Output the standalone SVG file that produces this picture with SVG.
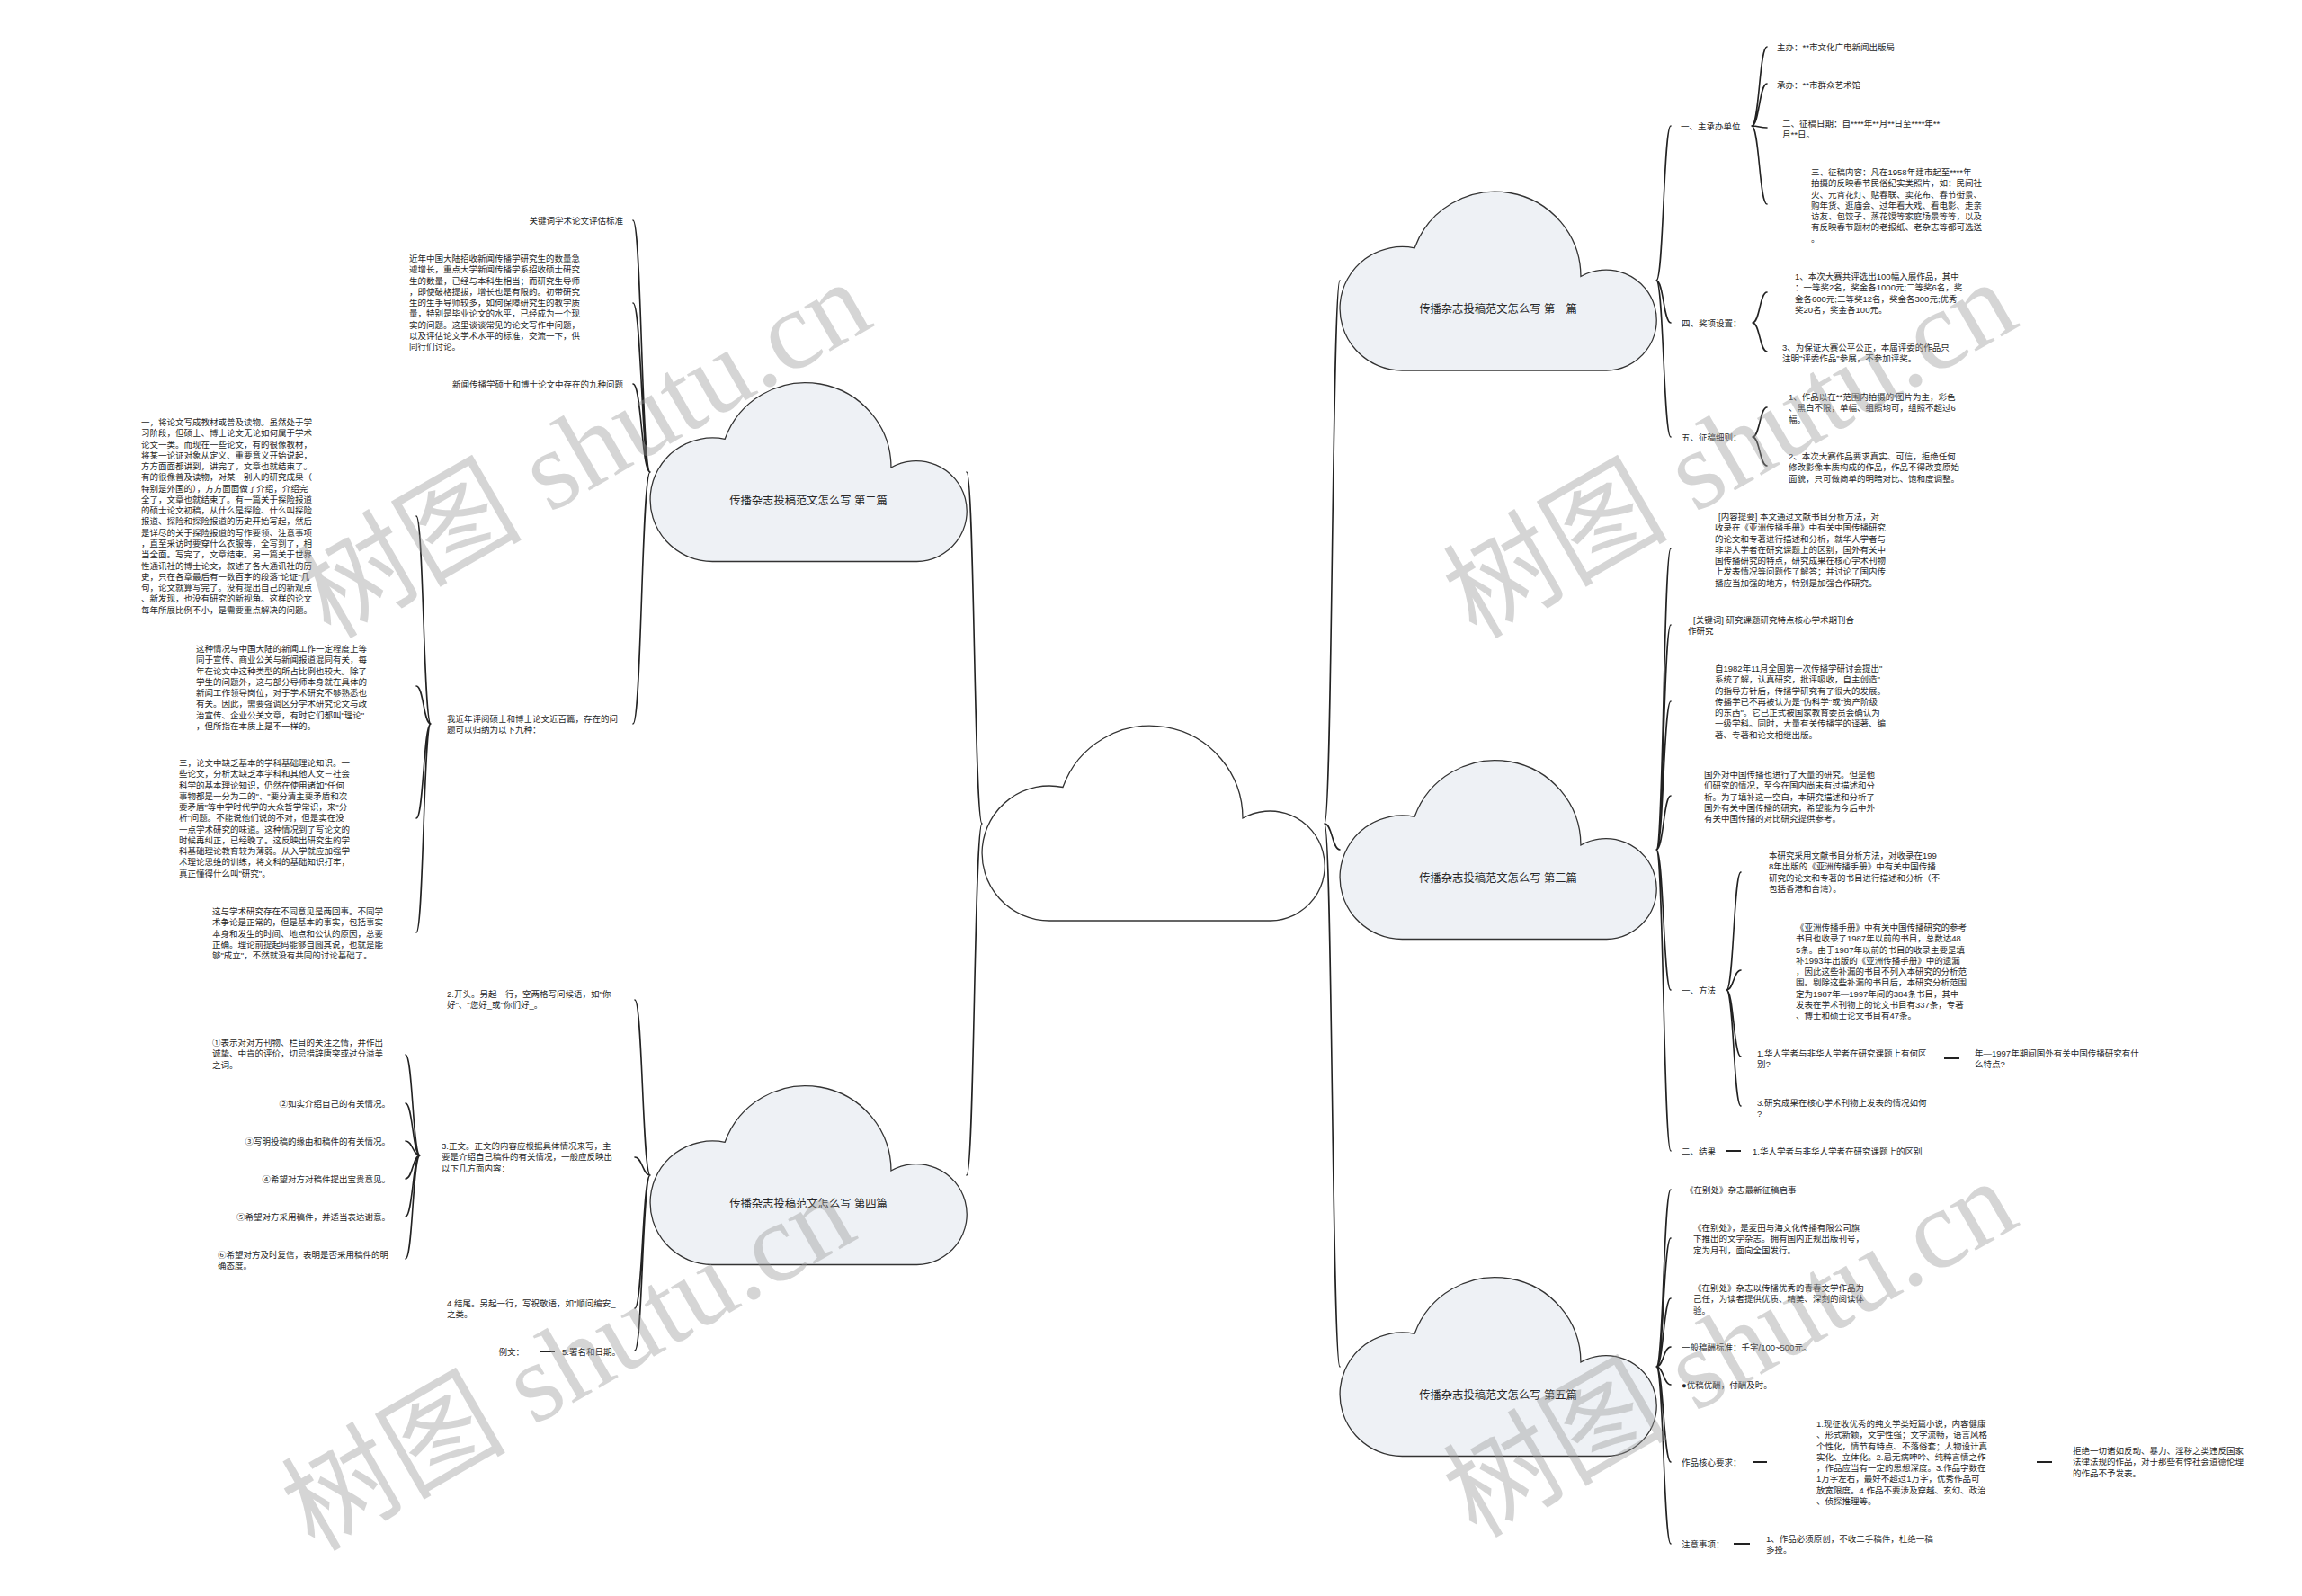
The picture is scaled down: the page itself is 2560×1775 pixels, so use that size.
<svg xmlns="http://www.w3.org/2000/svg" xmlns:xlink="http://www.w3.org/1999/xlink" width="2560" height="1775" viewBox="0 0 2560 1775">
<style>
.t{font-family:"Liberation Sans","Noto Sans CJK SC",sans-serif;font-size:9.5px;fill:#262626;dominant-baseline:central}
.e{text-anchor:end}
.cl{font-family:"Liberation Sans","Noto Sans CJK SC",sans-serif;font-size:12.3px;fill:#262626;text-anchor:middle;dominant-baseline:central}
.lk{fill:none;stroke:#222;stroke-width:1.6;stroke-linecap:round}
.dl{fill:none;stroke:#222;stroke-width:2.2}
.cw{fill:#fff;stroke:#333;stroke-width:1.3}
.cb{fill:#eef1f5;stroke:#333;stroke-width:1.3}
.wm{font-family:"Liberation Serif","Noto Sans CJK SC",serif;font-size:125px;fill:#999;opacity:0.4;text-anchor:middle;dominant-baseline:central}
</style>
<defs>
<path id="cloud" d="M75 217A75 75 0 1 1 90 68.5A103 103 0 0 1 290 103A61 61 0 1 1 321 217Z" vector-effect="non-scaling-stroke"/>
</defs>
<rect width="2560" height="1775" fill="#fff"/>

<g id="connectors">
<path class="lk" d="M1092 916C1083.5 916 1083.5 525 1075 525M1092 916C1083.5 916 1083.5 1307 1075 1307M1473 916C1481.5 916 1481.5 312 1490 312M1473 916C1481.5 916 1481.5 945 1490 945M1473 916C1481.5 916 1481.5 1520 1490 1520"/>
<path class="lk" d="M1842 312C1850 312 1850 140 1858 140M1842 312C1850 312 1850 359 1858 359M1842 312C1850 312 1850 486 1858 486"/>
<path class="lk" d="M1948 140C1956.5 140 1956.5 52 1965 52M1948 140C1956.5 140 1956.5 93 1965 93M1948 140C1956.5 140 1956.5 142 1965 142M1948 140C1956.5 140 1956.5 227 1965 227"/>
<path class="lk" d="M1949 359C1957 359 1957 325 1965 325M1949 359C1957 359 1957 391 1965 391M1949 486C1957 486 1957 453 1965 453M1949 486C1957 486 1957 518 1965 518"/>
<path class="lk" d="M1842 945C1850 945 1850 610 1858 610M1842 945C1850 945 1850 695 1858 695M1842 945C1850 945 1850 780 1858 780M1842 945C1850 945 1850 885 1858 885M1842 945C1850 945 1850 1101 1858 1101M1842 945C1850 945 1850 1280 1858 1280"/>
<path class="lk" d="M1920 1101C1928 1101 1928 970 1936 970M1920 1101C1928 1101 1928 1079 1936 1079M1920 1101C1928 1101 1928 1175 1936 1175M1920 1101C1928 1101 1928 1230 1936 1230"/>
<path class="lk" d="M1842 1520C1850 1520 1850 1323 1858 1323M1842 1520C1850 1520 1850 1377 1858 1377M1842 1520C1850 1520 1850 1444 1858 1444M1842 1520C1850 1520 1850 1498 1858 1498M1842 1520C1850 1520 1850 1540 1858 1540M1842 1520C1850 1520 1850 1626 1858 1626M1842 1520C1850 1520 1850 1717 1858 1717"/>
<path class="lk" d="M723 525C713.5 525 713.5 245 704 245M723 525C713.5 525 713.5 337 704 337M723 525C713.5 525 713.5 427 704 427M723 525C713.5 525 713.5 805 704 805"/>
<path class="lk" d="M479 805C471 805 471 574 463 574M479 805C471 805 471 763 463 763M479 805C471 805 471 910 463 910M479 805C471 805 471 1037 463 1037"/>
<path class="lk" d="M723 1307C714.5 1307 714.5 1112 706 1112M723 1307C714.5 1307 714.5 1287 706 1287M723 1307C714.5 1307 714.5 1455 706 1455M723 1307C714.5 1307 714.5 1502 706 1502"/>
<path class="lk" d="M467 1285C459 1285 459 1173 451 1173M467 1285C459 1285 459 1227 451 1227M467 1285C459 1285 459 1269 451 1269M467 1285C459 1285 459 1311 451 1311M467 1285C459 1285 459 1353 451 1353M467 1285C459 1285 459 1400 451 1400"/>
<path class="dl" d="M1920 1280H1936M2162 1177H2179M1949 1626H1965M2265 1626H2282M1928 1717H1946M617 1503H600"/>
</g>

<g id="root"><use xlink:href="#cloud" class="cw" transform="translate(1092 807)"/></g>
<g id="topic1"><use xlink:href="#cloud" class="cb" transform="translate(1490 213) scale(0.924 0.917)"/><text class="cl" x="1666" y="344">传播杂志投稿范文怎么写 第一篇</text></g>
<g id="topic2"><use xlink:href="#cloud" class="cb" transform="translate(723 425.5) scale(0.924 0.917)"/><text class="cl" x="899" y="556.5">传播杂志投稿范文怎么写 第二篇</text></g>
<g id="topic3"><use xlink:href="#cloud" class="cb" transform="translate(1490 845.5) scale(0.924 0.917)"/><text class="cl" x="1666" y="976.5">传播杂志投稿范文怎么写 第三篇</text></g>
<g id="topic4"><use xlink:href="#cloud" class="cb" transform="translate(723 1207.5) scale(0.924 0.917)"/><text class="cl" x="899" y="1338.5">传播杂志投稿范文怎么写 第四篇</text></g>
<g id="topic5"><use xlink:href="#cloud" class="cb" transform="translate(1490 1420.5) scale(0.924 0.917)"/><text class="cl" x="1666" y="1551.5">传播杂志投稿范文怎么写 第五篇</text></g>

<g id="n1"><text class="t" x="1869" y="140">一、主承办单位</text></g>
<g id="n1a"><text class="t" x="1976" y="52">主办：**市文化广电新闻出版局</text></g>
<g id="n1b"><text class="t" x="1976" y="94">承办：**市群众艺术馆</text></g>
<g id="n1c"><text class="t" x="1982" y="137"><tspan x="1982">二、征稿日期：自****年**月**日至****年**</tspan><tspan x="1982" dy="12.27">月**日。</tspan></text></g>
<g id="n1d"><text class="t" x="2014" y="191"><tspan x="2014">三、征稿内容：凡在1958年建市起至****年</tspan><tspan x="2014" dy="12.27">拍摄的反映春节民俗纪实类照片，如：民间社</tspan><tspan x="2014" dy="12.27">火、元宵花灯、贴春联、卖花布、春节街景、</tspan><tspan x="2014" dy="12.27">购年货、逛庙会、过年看大戏、看电影、走亲</tspan><tspan x="2014" dy="12.27">访友、包饺子、蒸花馍等家庭场景等等，以及</tspan><tspan x="2014" dy="12.27">有反映春节题材的老报纸、老杂志等都可选送</tspan><tspan x="2014" dy="12.27">。</tspan></text></g>
<g id="n2"><text class="t" x="1870" y="359">四、奖项设置：</text></g>
<g id="n2a"><text class="t" x="1996" y="307"><tspan x="1996">1、本次大赛共评选出100幅入展作品，其中</tspan><tspan x="1996" dy="12.27">：一等奖2名，奖金各1000元;二等奖6名，奖</tspan><tspan x="1996" dy="12.27">金各600元;三等奖12名，奖金各300元;优秀</tspan><tspan x="1996" dy="12.27">奖20名，奖金各100元。</tspan></text></g>
<g id="n2b"><text class="t" x="1982" y="386"><tspan x="1982">3、为保证大赛公平公正，本届评委的作品只</tspan><tspan x="1982" dy="12.27">注明"评委作品"参展，不参加评奖。</tspan></text></g>
<g id="n3"><text class="t" x="1870" y="486">五、征稿细则：</text></g>
<g id="n3a"><text class="t" x="1989" y="441"><tspan x="1989">1、作品以在**范围内拍摄的'图片为主，彩色</tspan><tspan x="1989" dy="12.27">、黑白不限，单幅、组照均可，组照不超过6</tspan><tspan x="1989" dy="12.27">幅。</tspan></text></g>
<g id="n3b"><text class="t" x="1989" y="507"><tspan x="1989">2、本次大赛作品要求真实、可信，拒绝任何</tspan><tspan x="1989" dy="12.27">修改影像本质构成的作品，作品不得改变原始</tspan><tspan x="1989" dy="12.27">面貌，只可做简单的明暗对比、饱和度调整。</tspan></text></g>

<g id="m1"><text class="t" x="1907" y="574"><tspan x="1911">[内容提要] 本文通过文献书目分析方法，对</tspan><tspan x="1907" dy="12.27">收录在《亚洲传播手册》中有关中国传播研究</tspan><tspan x="1907" dy="12.27">的论文和专著进行描述和分析，就华人学者与</tspan><tspan x="1907" dy="12.27">非华人学者在研究课题上的区别，国外有关中</tspan><tspan x="1907" dy="12.27">国传播研究的特点，研究成果在核心学术刊物</tspan><tspan x="1907" dy="12.27">上发表情况等问题作了解答；并讨论了国内传</tspan><tspan x="1907" dy="12.27">播应当加强的地方，特别是加强合作研究。</tspan></text></g>
<g id="m2"><text class="t" x="1877" y="689"><tspan x="1883">[关键词] 研究课题研究特点核心学术期刊合</tspan><tspan x="1877" dy="12.27">作研究</tspan></text></g>
<g id="m3"><text class="t" x="1907" y="743"><tspan x="1907">自1982年11月全国第一次传播学研讨会提出"</tspan><tspan x="1907" dy="12.27">系统了解，认真研究，批评吸收，自主创造"</tspan><tspan x="1907" dy="12.27">的指导方针后，传播学研究有了很大的发展。</tspan><tspan x="1907" dy="12.27">传播学已不再被认为是"伪科学"或"资产阶级</tspan><tspan x="1907" dy="12.27">的东西"。它已正式被国家教育委员会确认为</tspan><tspan x="1907" dy="12.27">一级学科。同时，大量有关传播学的译著、编</tspan><tspan x="1907" dy="12.27">著、专著和论文相继出版。</tspan></text></g>
<g id="m4"><text class="t" x="1895" y="861"><tspan x="1895">国外对中国传播也进行了大量的研究。但是他</tspan><tspan x="1895" dy="12.27">们研究的情况，至今在国内尚未有过描述和分</tspan><tspan x="1895" dy="12.27">析。为了填补这一空白，本研究描述和分析了</tspan><tspan x="1895" dy="12.27">国外有关中国传播的研究，希望能为今后中外</tspan><tspan x="1895" dy="12.27">有关中国传播的对比研究提供参考。</tspan></text></g>
<g id="m5"><text class="t" x="1870" y="1101">一、方法</text></g>
<g id="m5a"><text class="t" x="1967" y="951"><tspan x="1967">本研究采用文献书目分析方法，对收录在199</tspan><tspan x="1967" dy="12.27">8年出版的《亚洲传播手册》中有关中国传播</tspan><tspan x="1967" dy="12.27">研究的论文和专著的书目进行描述和分析（不</tspan><tspan x="1967" dy="12.27">包括香港和台湾）。</tspan></text></g>
<g id="m5b"><text class="t" x="1997" y="1031"><tspan x="1997">《亚洲传播手册》中有关中国传播研究的参考</tspan><tspan x="1997" dy="12.27">书目也收录了1987年以前的书目，总数达48</tspan><tspan x="1997" dy="12.27">5条。由于1987年以前的书目的收录主要是填</tspan><tspan x="1997" dy="12.27">补1993年出版的《亚洲传播手册》中的遗漏</tspan><tspan x="1997" dy="12.27">，因此这些补漏的书目不列入本研究的分析范</tspan><tspan x="1997" dy="12.27">围。剔除这些补漏的书目后，本研究分析范围</tspan><tspan x="1997" dy="12.27">定为1987年—1997年间的384条书目，其中</tspan><tspan x="1997" dy="12.27">发表在学术刊物上的论文书目有337条，专著</tspan><tspan x="1997" dy="12.27">、博士和硕士论文书目有47条。</tspan></text></g>
<g id="m5c"><text class="t" x="1954" y="1171"><tspan x="1954">1.华人学者与非华人学者在研究课题上有何区</tspan><tspan x="1954" dy="12.27">别?</tspan></text></g>
<g id="m5c1"><text class="t" x="2196" y="1171"><tspan x="2196">年—1997年期间国外有关中国传播研究有什</tspan><tspan x="2196" dy="12.27">么特点?</tspan></text></g>
<g id="m5d"><text class="t" x="1954" y="1226"><tspan x="1954">3.研究成果在核心学术刊物上发表的情况如何</tspan><tspan x="1954" dy="12.27">?</tspan></text></g>
<g id="m6"><text class="t" x="1870" y="1280">二、结果</text></g>
<g id="m6a"><text class="t" x="1949" y="1280">1.华人学者与非华人学者在研究课题上的区别</text></g>

<g id="p1"><text class="t" x="1874" y="1323">《在别处》杂志最新征稿启事</text></g>
<g id="p2"><text class="t" x="1883" y="1365"><tspan x="1883">《在别处》，是麦田与海文化传播有限公司旗</tspan><tspan x="1883" dy="12.27">下推出的文学杂志。拥有国内正规出版刊号，</tspan><tspan x="1883" dy="12.27">定为月刊，面向全国发行。</tspan></text></g>
<g id="p3"><text class="t" x="1883" y="1432"><tspan x="1883">《在别处》杂志以传播优秀的青春文学作品为</tspan><tspan x="1883" dy="12.27">己任，为读者提供优质、精美、深刻的阅读体</tspan><tspan x="1883" dy="12.27">验。</tspan></text></g>
<g id="p4"><text class="t" x="1870" y="1498">一般稿酬标准：千字/100~500元。</text></g>
<g id="p5"><text class="t" x="1870" y="1540">●优稿优酬，付酬及时。</text></g>
<g id="p6"><text class="t" x="1870" y="1626">作品核心要求：</text></g>
<g id="p6a"><text class="t" x="2020" y="1583"><tspan x="2020">1.现征收优秀的纯文学类短篇小说，内容健康</tspan><tspan x="2020" dy="12.27">、形式新颖，文学性强；文字流畅，语言风格</tspan><tspan x="2020" dy="12.27">个性化，情节有特点、不落俗套；人物设计真</tspan><tspan x="2020" dy="12.27">实化、立体化。2.忌无病呻吟、纯粹言情之作</tspan><tspan x="2020" dy="12.27">，作品应当有一定的思想深度。3.作品字数在</tspan><tspan x="2020" dy="12.27">1万字左右，最好不超过1万字，优秀作品可</tspan><tspan x="2020" dy="12.27">放宽限度。4.作品不要涉及穿越、玄幻、政治</tspan><tspan x="2020" dy="12.27">、侦探推理等。</tspan></text></g>
<g id="p6b"><text class="t" x="2305" y="1613"><tspan x="2305">拒绝一切诸如反动、暴力、淫秽之类违反国家</tspan><tspan x="2305" dy="12.27">法律法规的作品，对于那些有悖社会道德伦理</tspan><tspan x="2305" dy="12.27">的作品不予发表。</tspan></text></g>
<g id="p7"><text class="t" x="1870" y="1717">注意事项：</text></g>
<g id="p7a"><text class="t" x="1964" y="1711"><tspan x="1964">1、作品必须原创，不收二手稿件，杜绝一稿</tspan><tspan x="1964" dy="12.27">多投。</tspan></text></g>

<g id="q1"><text class="t e" x="693" y="245">关键词学术论文评估标准</text></g>
<g id="q2"><text class="t" x="455" y="287"><tspan x="455">近年中国大陆招收新闻传播学研究生的数量急</tspan><tspan x="455" dy="12.27">遽增长，重点大学新闻传播学系招收硕士研究</tspan><tspan x="455" dy="12.27">生的数量，已经与本科生相当；而研究生导师</tspan><tspan x="455" dy="12.27">，即使破格提拔，增长也是有限的。初带研究</tspan><tspan x="455" dy="12.27">生的生手导师较多，如何保障研究生的教学质</tspan><tspan x="455" dy="12.27">量，特别是毕业论文的水平，已经成为一个现</tspan><tspan x="455" dy="12.27">实的问题。这里谈谈常见的论文写作中问题，</tspan><tspan x="455" dy="12.27">以及评估论文学术水平的标准，交流一下，供</tspan><tspan x="455" dy="12.27">同行们讨论。</tspan></text></g>
<g id="q3"><text class="t e" x="693" y="427">新闻传播学硕士和博士论文中存在的九种问题</text></g>
<g id="q4"><text class="t" x="497" y="799"><tspan x="497">我近年评阅硕士和博士论文近百篇，存在的问</tspan><tspan x="497" dy="12.27">题可以归纳为以下九种：</tspan></text></g>
<g id="q4a"><text class="t" x="157" y="469"><tspan x="157">一，将论文写成教材或普及读物。虽然处于学</tspan><tspan x="157" dy="12.27">习阶段，但硕士、博士论文无论如何属于学术</tspan><tspan x="157" dy="12.27">论文一类。而现在一些论文，有的很像教材，</tspan><tspan x="157" dy="12.27">将某一论证对象从定义、重要意义开始说起，</tspan><tspan x="157" dy="12.27">方方面面都讲到，讲完了，文章也就结束了。</tspan><tspan x="157" dy="12.27">有的很像普及读物，对某一别人的研究成果（</tspan><tspan x="157" dy="12.27">特别是外国的），方方面面做了介绍，介绍完</tspan><tspan x="157" dy="12.27">全了，文章也就结束了。有一篇关于探险报道</tspan><tspan x="157" dy="12.27">的硕士论文初稿，从什么是探险、什么叫探险</tspan><tspan x="157" dy="12.27">报道、探险和探险报道的历史开始写起，然后</tspan><tspan x="157" dy="12.27">是详尽的关于探险报道的写作要领、注意事项</tspan><tspan x="157" dy="12.27">，直至采访时要穿什么衣服等，全写到了，相</tspan><tspan x="157" dy="12.27">当全面。写完了，文章结束。另一篇关于世界</tspan><tspan x="157" dy="12.27">性通讯社的博士论文，叙述了各大通讯社的历</tspan><tspan x="157" dy="12.27">史，只在各章最后有一数百字的段落"论证"几</tspan><tspan x="157" dy="12.27">句，论文就算写完了。没有提出自己的新观点</tspan><tspan x="157" dy="12.27">、新发现，也没有研究的新视角。这样的论文</tspan><tspan x="157" dy="12.27">每年所展比例不小，是需要重点解决的问题。</tspan></text></g>
<g id="q4b"><text class="t" x="218" y="721"><tspan x="218">这种情况与中国大陆的新闻工作一定程度上等</tspan><tspan x="218" dy="12.27">同于宣传、商业公关与新闻报道混同有关，每</tspan><tspan x="218" dy="12.27">年在论文中这种类型的所占比例也较大。除了</tspan><tspan x="218" dy="12.27">学生的问题外，这与部分导师本身就在具体的</tspan><tspan x="218" dy="12.27">新闻工作领导岗位，对于学术研究不够熟悉也</tspan><tspan x="218" dy="12.27">有关。因此，需要强调区分学术研究论文与政</tspan><tspan x="218" dy="12.27">治宣传、企业公关文章，有时它们都叫"理论"</tspan><tspan x="218" dy="12.27">，但所指在本质上是不一样的。</tspan></text></g>
<g id="q4c"><text class="t" x="199" y="848"><tspan x="199">三，论文中缺乏基本的学科基础理论知识。一</tspan><tspan x="199" dy="12.27">些论文，分析太缺乏本学科和其他人文－社会</tspan><tspan x="199" dy="12.27">科学的基本理论知识，仍然在使用诸如"任何</tspan><tspan x="199" dy="12.27">事物都是一分为二的"、"要分清主要矛盾和次</tspan><tspan x="199" dy="12.27">要矛盾"等中学时代学的大众哲学常识，来"分</tspan><tspan x="199" dy="12.27">析"问题。不能说他们说的不对，但是实在没</tspan><tspan x="199" dy="12.27">一点学术研究的味道。这种情况到了写论文的</tspan><tspan x="199" dy="12.27">时候再纠正，已经晚了。这反映出研究生的学</tspan><tspan x="199" dy="12.27">科基础理论教育较为薄弱。从入学就应加强学</tspan><tspan x="199" dy="12.27">术理论思维的训练，将文科的基础知识打牢，</tspan><tspan x="199" dy="12.27">真正懂得什么叫"研究"。</tspan></text></g>
<g id="q4d"><text class="t" x="236" y="1013"><tspan x="236">这与学术研究存在不同意见是两回事。不同学</tspan><tspan x="236" dy="12.27">术争论是正常的，但是基本的事实，包括事实</tspan><tspan x="236" dy="12.27">本身和发生的时间、地点和公认的原因，总要</tspan><tspan x="236" dy="12.27">正确。理论前提起码能够自圆其说，也就是能</tspan><tspan x="236" dy="12.27">够"成立"，不然就没有共同的讨论基础了。</tspan></text></g>

<g id="r1"><text class="t" x="497" y="1105"><tspan x="497">2.开头。另起一行，空两格写问候语，如"你</tspan><tspan x="497" dy="12.27">好"、"您好_或"你们好_。</tspan></text></g>
<g id="r2"><text class="t" x="491" y="1274"><tspan x="491">3.正文。正文的内容应根据具体情况来写，主</tspan><tspan x="491" dy="12.27">要是介绍自己稿件的有关情况，一般应反映出</tspan><tspan x="491" dy="12.27">以下几方面内容：</tspan></text></g>
<g id="r2a"><text class="t" x="236" y="1159"><tspan x="236">①表示对对方刊物、栏目的关注之情，并作出</tspan><tspan x="236" dy="12.27">诚挚、中肯的评价，切忌措辞唐突或过分溢美</tspan><tspan x="236" dy="12.27">之词。</tspan></text></g>
<g id="r2b"><text class="t e" x="434" y="1227">②如实介绍自己的有关情况。</text></g>
<g id="r2c"><text class="t e" x="434" y="1269">③写明投稿的缘由和稿件的有关情况。</text></g>
<g id="r2d"><text class="t e" x="434" y="1311">④希望对方对稿件提出宝贵意见。</text></g>
<g id="r2e"><text class="t e" x="434" y="1353">⑤希望对方采用稿件，并适当表达谢意。</text></g>
<g id="r2f"><text class="t" x="242" y="1395"><tspan x="242">⑥希望对方及时复信，表明是否采用稿件的明</tspan><tspan x="242" dy="12.27">确态度。</tspan></text></g>
<g id="r3"><text class="t" x="497" y="1449"><tspan x="497">4.结尾。另起一行，写祝敬语，如"顺问编安_</tspan><tspan x="497" dy="12.27">之类。</tspan></text></g>
<g id="r4"><text class="t e" x="690" y="1503">5.署名和日期。</text></g>
<g id="r4a"><text class="t e" x="583" y="1503">例文：</text></g>

<g id="watermark">
<text class="wm" transform="translate(650 500) rotate(-30)">树图 shutu.cn</text>
<text class="wm" transform="translate(1924 500) rotate(-30)">树图 shutu.cn</text>
<text class="wm" transform="translate(632 1515) rotate(-30)">树图 shutu.cn</text>
<text class="wm" transform="translate(1924 1500) rotate(-30)">树图 shutu.cn</text>
</g>
</svg>
